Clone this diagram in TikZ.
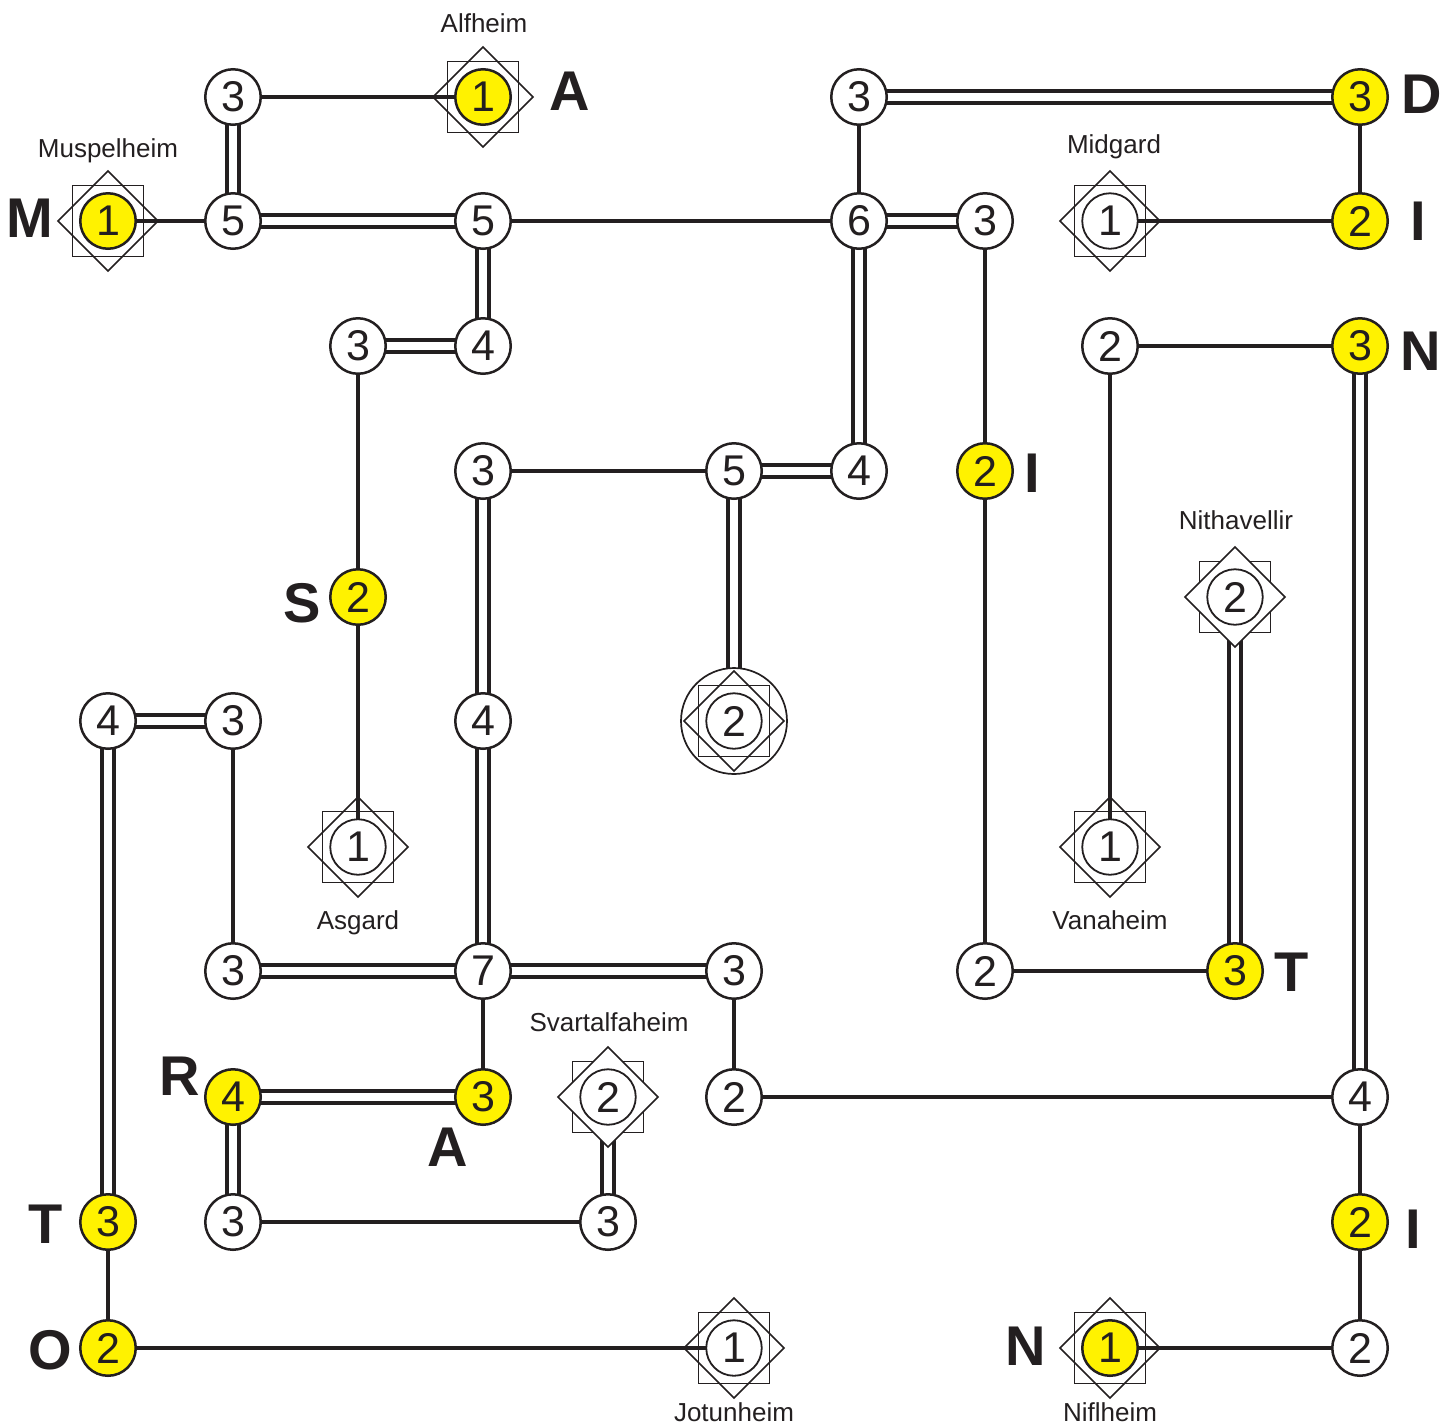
\documentclass[tikz,border=0pt]{standalone}
\usepackage{fontspec}
\setmainfont{Liberation Sans}
\definecolor{ink}{HTML}{231F20}
\definecolor{yel}{HTML}{FFF200}
\pgfdeclarelayer{edges}
\pgfdeclarelayer{deco}
\pgfsetlayers{edges,deco,main}
\tikzset{
 isl/.style={circle, draw=ink, line width=2.5pt, minimum size=55.5pt, inner sep=0pt, text=ink, font=\fontsize{43}{43}\selectfont, fill=white},
 yisl/.style={isl, fill=yel},
 tisl/.style={isl, line width=1.8pt},
 one/.style={draw=ink, line width=4pt},
 two/.style={draw=ink, line width=4pt, double=white, double distance=7.5pt},
 decoline/.style={draw=ink, line width=1.7pt},
 letter/.style={anchor=base, text=ink, font=\fontsize{56}{56}\selectfont\bfseries, inner sep=0pt},
 world/.style={anchor=base, text=ink, font=\fontsize{26}{26}\selectfont, inner sep=0pt},
}
\begin{document}
\begin{tikzpicture}[x=1pt,y=-1pt]
\path[use as bounding box] (0,0) rectangle (1442,1425);
% row 0
\node[isl]  (c1r0) at (233,97) {3};
\node[yisl] (c3r0) at (483,97) {1};
\node[isl]  (c6r0) at (859,97) {3};
\node[yisl] (c10r0) at (1360,97) {3};
% row 1
\node[yisl] (c0r1) at (108,221) {1};
\node[isl]  (c1r1) at (233,221) {5};
\node[isl]  (c3r1) at (483,221) {5};
\node[isl]  (c6r1) at (859,221) {6};
\node[isl]  (c7r1) at (985,221) {3};
\node[tisl] (c8r1) at (1110,221) {1};
\node[yisl] (c10r1) at (1360,221) {2};
% row 2
\node[isl]  (c2r2) at (358,346) {3};
\node[isl]  (c3r2) at (483,346) {4};
\node[isl]  (c8r2) at (1110,346) {2};
\node[yisl] (c10r2) at (1360,346) {3};
% row 3
\node[isl]  (c3r3) at (483,471) {3};
\node[isl]  (c5r3) at (734,471) {5};
\node[isl]  (c6r3) at (859,471) {4};
\node[yisl] (c7r3) at (985,471) {2};
% row 4
\node[yisl] (c2r4) at (358,597) {2};
\node[tisl] (c9r4) at (1235,597) {2};
% row 5
\node[isl]  (c0r5) at (108,721) {4};
\node[isl]  (c1r5) at (233,721) {3};
\node[isl]  (c3r5) at (483,721) {4};
\node[tisl] (c5r5) at (734,721) {2};
% row 6
\node[tisl] (c2r6) at (358,847) {1};
\node[tisl] (c8r6) at (1110,847) {1};
% row 7
\node[isl]  (c1r7) at (233,971) {3};
\node[isl]  (c3r7) at (483,971) {7};
\node[isl]  (c5r7) at (734,971) {3};
\node[isl]  (c7r7) at (985,971) {2};
\node[yisl] (c9r7) at (1235,971) {3};
% row 8
\node[yisl] (c1r8) at (233,1097) {4};
\node[yisl] (c3r8) at (483,1097) {3};
\node[tisl] (c4r8) at (608,1097) {2};
\node[isl]  (c5r8) at (734,1097) {2};
\node[isl]  (c10r8) at (1360,1097) {4};
% row 9
\node[yisl] (c0r9) at (108,1222) {3};
\node[isl]  (c1r9) at (233,1222) {3};
\node[isl]  (c4r9) at (608,1222) {3};
\node[yisl] (c10r9) at (1360,1222) {2};
% row 10
\node[yisl] (c0r10) at (108,1348) {2};
\node[tisl] (c5r10) at (734,1348) {1};
\node[yisl] (c8r10) at (1110,1348) {1};
\node[isl]  (c10r10) at (1360,1348) {2};

\begin{pgfonlayer}{edges}
\foreach \a/\b in {c1r0/c3r0, c0r1/c1r1, c3r1/c6r1, c6r0/c6r1, c10r0/c10r1, c8r1/c10r1,
  c7r1/c7r3, c2r2/c2r4, c8r2/c10r2, c8r2/c8r6, c3r3/c5r3, c7r3/c7r7, c2r4/c2r6,
  c1r5/c1r7, c3r7/c3r8, c5r7/c5r8, c7r7/c9r7, c5r8/c10r8, c1r9/c4r9, c10r8/c10r9,
  c0r9/c0r10, c0r10/c5r10, c10r9/c10r10, c8r10/c10r10}
  \draw[one] (\a.center) -- (\b.center);
\foreach \a/\b in {c1r0/c1r1, c1r1/c3r1, c3r1/c3r2, c6r0/c10r0, c6r1/c7r1, c6r1/c6r3,
  c2r2/c3r2, c10r2/c10r8, c5r3/c6r3, c3r3/c3r5, c5r3/c5r5, c9r4/c9r7, c0r5/c1r5,
  c0r5/c0r9, c3r5/c3r7, c1r7/c3r7, c3r7/c5r7, c1r8/c3r8, c1r8/c1r9, c4r8/c4r9}
  \draw[two] (\a.center) -- (\b.center);
\end{pgfonlayer}

\begin{pgfonlayer}{deco}
\draw[decoline, fill=white] (c5r5.center) circle (53pt);
\foreach \n in {c3r0,c0r1,c8r1,c2r6,c8r6,c5r5,c5r10,c8r10} {
  \draw[decoline] ([shift={(-35.5pt,-35.5pt)}]\n.center) rectangle ([shift={(35.5pt,35.5pt)}]\n.center);
  \draw[decoline] ([yshift=50pt]\n.center) -- ([xshift=50pt]\n.center) -- ([yshift=-50pt]\n.center) -- ([xshift=-50pt]\n.center) -- cycle;
}
\foreach \n in {c9r4,c4r8} {
  \draw[decoline] ([shift={(-35.5pt,-35.5pt)}]\n.center) rectangle ([shift={(35.5pt,35.5pt)}]\n.center);
  \draw[decoline, fill=white] ([yshift=50pt]\n.center) -- ([xshift=50pt]\n.center) -- ([yshift=-50pt]\n.center) -- ([xshift=-50pt]\n.center) -- cycle;
}
\end{pgfonlayer}

% world labels
\node[world] (wAlf) at (484,32) {Alfheim};
\node[world] (wMus) at (108,157) {Muspelheim};
\node[world] (wMid) at (1114,153) {Midgard};
\node[world] (wNit) at (1236,529) {Nithavellir};
\node[world] (wAsg) at (358,929) {Asgard};
\node[world] (wVan) at (1110,929) {Vanaheim};
\node[world] (wSva) at (609,1031) {Svartalfaheim};
\node[world] (wJot) at (734,1421) {Jotunheim};
\node[world] (wNif) at (1110,1421) {Niflheim};

% letters
\node[letter] (L1) at (570,110) {A};
\node[letter] (L2) at (1422,113) {D};
\node[letter] (L3) at (30,237) {M};
\node[letter] (L4) at (1418,240) {I};
\node[letter] (L5) at (1421,370) {N};
\node[letter] (L6) at (1032,492) {I};
\node[letter] (L7) at (302,622) {S};
\node[letter] (L8) at (1292,991) {T};
\node[letter] (L9) at (180,1095) {R};
\node[letter] (L10) at (448,1166) {A};
\node[letter] (L11) at (46,1243) {T};
\node[letter] (L12) at (1413,1248) {I};
\node[letter] (L13) at (50,1369) {O};
\node[letter] (L14) at (1026,1365) {N};
\end{tikzpicture}
\end{document}
